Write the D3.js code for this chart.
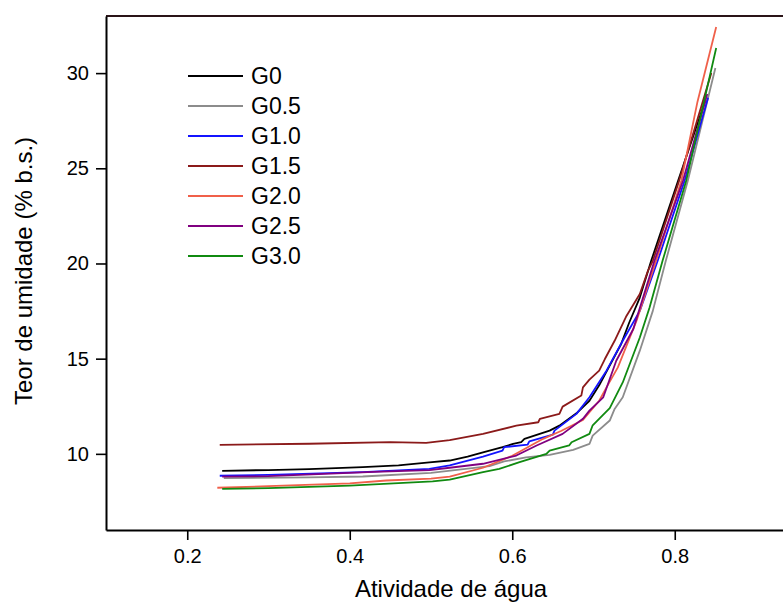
<!DOCTYPE html>
<html>
<head>
<meta charset="utf-8">
<script src="https://cdn.jsdelivr.net/npm/d3@7"></script>
<style>
  body { margin: 0; background: #fff; }
  text { font-family: "Liberation Sans", Arial, sans-serif; }
</style>
</head>
<body>
<div id="chart"></div>
<script>
var seriesNames = ["G0", "G0.5", "G1.0", "G1.5", "G2.0", "G2.5", "G3.0"];

var g0 = [[0.243, 9.11], [0.30, 9.15], [0.35, 9.2], [0.416, 9.3], [0.46, 9.4], [0.498, 9.55], [0.523, 9.65],
	[0.545, 9.85], [0.564, 10.08], [0.588, 10.35], [0.601, 10.52], [0.611, 10.61], [0.615, 10.79], [0.646, 11.22],
	[0.658, 11.48], [0.679, 12.13], [0.695, 12.79], [0.707, 13.6], [0.734, 15.77], [0.744, 16.9], [0.757, 18.21],
	[0.771, 20.14], [0.804, 24.33], [0.838, 28.6]];
var g05 = [[0.245, 8.72], [0.35, 8.76], [0.416, 8.81], [0.50, 9.0], [0.572, 9.35], [0.59, 9.6], [0.617, 9.82],
	[0.646, 9.95], [0.675, 10.21], [0.695, 10.52], [0.699, 10.96], [0.72, 11.75], [0.726, 12.36], [0.736, 12.97],
	[0.757, 15.42], [0.773, 17.51], [0.789, 20.14], [0.816, 24.33], [0.850, 30.27]];
var g10 = [[0.24, 8.85], [0.30, 8.9], [0.416, 9.04], [0.498, 9.21], [0.523, 9.39], [0.564, 9.86], [0.588, 10.17],
	[0.590, 10.35], [0.619, 10.49], [0.621, 10.66], [0.650, 11.01], [0.652, 11.22], [0.679, 12.1], [0.695, 12.97],
	[0.716, 14.37], [0.736, 15.94], [0.757, 17.51], [0.779, 20.14], [0.812, 24.33], [0.841, 28.7]];
var g15 = [[0.24, 10.47], [0.35, 10.53], [0.45, 10.62], [0.494, 10.58], [0.523, 10.72], [0.564, 11.05],
	[0.605, 11.48], [0.632, 11.66], [0.634, 11.84], [0.658, 12.1], [0.662, 12.48], [0.685, 13.06], [0.687, 13.49],
	[0.695, 13.9], [0.707, 14.37], [0.714, 14.98], [0.726, 15.94], [0.740, 17.2], [0.757, 18.4], [0.767, 19.61],
	[0.773, 20.14], [0.805, 24.3], [0.845, 30.0]];
var g20 = [[0.237, 8.22], [0.30, 8.3], [0.40, 8.45], [0.445, 8.6], [0.50, 8.7], [0.523, 8.8], [0.564, 9.27],
	[0.60, 9.9], [0.638, 10.79], [0.66, 11.2], [0.687, 11.78], [0.707, 12.79], [0.716, 13.49], [0.730, 14.54],
	[0.753, 16.99], [0.777, 20.14], [0.808, 24.33], [0.828, 28.5], [0.851, 32.42]];
var g25 = [[0.243, 8.8], [0.30, 8.83], [0.43, 9.05], [0.498, 9.15], [0.523, 9.27], [0.564, 9.48], [0.605, 9.91],
	[0.63, 10.44], [0.662, 11.05], [0.687, 11.84], [0.695, 12.27], [0.712, 12.97], [0.728, 14.89], [0.749, 16.56],
	[0.775, 20.14], [0.81, 24.33], [0.84, 28.9]];
var g30 = [[0.243, 8.16], [0.30, 8.2], [0.40, 8.33], [0.502, 8.55], [0.523, 8.65], [0.564, 9.04], [0.584, 9.21],
	[0.609, 9.56], [0.642, 10.0], [0.646, 10.17], [0.670, 10.44], [0.673, 10.61], [0.695, 11.05], [0.699, 11.5],
	[0.72, 12.4], [0.736, 13.75], [0.757, 16.11], [0.769, 17.69], [0.785, 20.14], [0.814, 24.33], [0.836, 28.5],
	[0.851, 31.32]];

var seriesValues = [g0, g05, g10, g15, g20, g25, g30];
var xTicks = [0.2, 0.4, 0.6, 0.8];
var yTicks = [10, 15, 20, 25, 30];

var colors = ["#000000", "#8c8c8c", "#1414ff", "#8b1a1a", "#f0604a", "#800080", "#108a10"];

function plot() {
	var width = 783, height = 605;
	var left = 106, top = 16, bottom = 530;

	var svg = d3.select("#chart").append("svg")
	.attr("width", width)
	.attr("height", height);

	var x = d3.scaleLinear().domain([0.1, 0.95]).range([left, left + 0.85 * 812.5]);
	var y = d3.scaleLinear().domain([6, 33]).range([bottom, top]);

	var line = d3.line()
	.x(function(d) { return x(d[0]); })
	.y(function(d) { return y(d[1]); });

	svg.selectAll(".series")
	.data(seriesValues)
	.enter().append("path")
	.attr("class", "series")
	.attr("d", line)
	.attr("fill", "none")
	.attr("stroke", function(d, i) { return colors[i]; })
	.attr("stroke-width", 1.8)
	.attr("stroke-linejoin", "round");

	// top frame line
	svg.append("line")
	.attr("x1", left).attr("x2", width)
	.attr("y1", top).attr("y2", top)
	.attr("stroke", "#2a1418")
	.attr("stroke-width", 2);

	var xAxis = svg.append("g")
	.attr("transform", "translate(0," + bottom + ")")
	.call(d3.axisBottom(x).tickValues(xTicks).tickSize(10).tickSizeOuter(0).tickPadding(9).tickFormat(d3.format(".1f")));

	var yAxis = svg.append("g")
	.attr("transform", "translate(" + left + ",0)")
	.call(d3.axisLeft(y).tickValues(yTicks).tickSize(10).tickSizeOuter(0).tickPadding(7));

	[xAxis, yAxis].forEach(function(a) {
		a.select(".domain").attr("stroke", "#000").attr("stroke-width", 2);
		a.selectAll(".tick line").attr("stroke", "#000").attr("stroke-width", 1.6);
		a.selectAll(".tick text").attr("font-size", 20).attr("fill", "#000")
		.style("font-family", "'Liberation Sans', Arial, sans-serif");
	});

	svg.append("text")
	.attr("x", 451).attr("y", 597)
	.attr("text-anchor", "middle")
	.attr("font-size", 24)
	.text("Atividade de água");

	svg.append("text")
	.attr("transform", "translate(32,271) rotate(-90)")
	.attr("text-anchor", "middle")
	.attr("font-size", 24)
	.text("Teor de umidade (% b.s.)");

	var legend = svg.selectAll(".legend")
	.data(seriesNames)
	.enter().append("g")
	.attr("class", "legend")
	.attr("transform", function(d, i) { return "translate(188," + (76 + i * 30) + ")"; });

	legend.append("line")
	.attr("x1", 0).attr("x2", 55)
	.attr("stroke", function(d, i) { return colors[i]; })
	.attr("stroke-width", 2);

	legend.append("text")
	.attr("x", 63)
	.attr("dy", "0.35em")
	.attr("font-size", 23)
	.text(function(d) { return d; });
}

document.addEventListener("DOMContentLoaded", function() {
	plot();
});
</script>
</body>
</html>
